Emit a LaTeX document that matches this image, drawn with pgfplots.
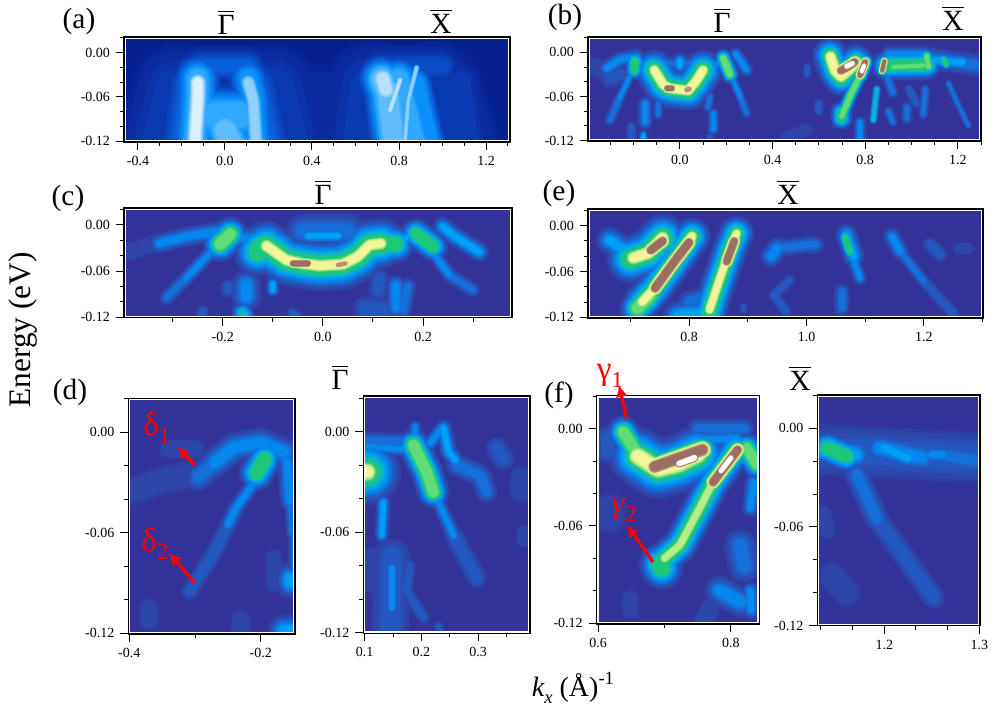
\documentclass[border=0pt]{standalone}
\usepackage{fontspec}
\setmainfont{Liberation Serif}
\usepackage{pgfplots}
\pgfplotsset{compat=1.18}
\usetikzlibrary{arrows.meta}

% intensity levels, rainbow map and blue map of panel (a)
\definecolor{L0}{HTML}{333399}
\definecolor{L1}{HTML}{2E46AA}
\definecolor{L2}{HTML}{2258C0}
\definecolor{L3}{HTML}{1470D8}
\definecolor{L4}{HTML}{0588EE}
\definecolor{L5}{HTML}{00A0F4}
\definecolor{L6}{HTML}{10B4C0}
\definecolor{L7}{HTML}{1CC878}
\definecolor{L8}{HTML}{60DC78}
\definecolor{L9}{HTML}{B8EC88}
\definecolor{L10}{HTML}{F4F49C}
\definecolor{L11}{HTML}{B89078}
\definecolor{L12}{HTML}{9A6E60}
\definecolor{L13}{HTML}{E8E0D8}
\definecolor{L14}{HTML}{FFFFFF}
\definecolor{A0}{HTML}{04208E}
\definecolor{A1}{HTML}{0A2A9E}
\definecolor{A2}{HTML}{0A3AB0}
\definecolor{A3}{HTML}{0A4CC4}
\definecolor{A4}{HTML}{0860DA}
\definecolor{A5}{HTML}{0678EC}
\definecolor{A6}{HTML}{0A90F8}
\definecolor{A7}{HTML}{30A8FC}
\definecolor{A8}{HTML}{60BCFC}
\definecolor{A9}{HTML}{90D0FC}
\definecolor{A10}{HTML}{B8E0FC}
\definecolor{A11}{HTML}{DCF0FE}
\definecolor{A12}{HTML}{FFFFFF}

\def\cm{L}
% ridge: peak level, full width in px, points along the ridge
\newcommand{\R}[3]{%
  \ifdim\curV pt>#1pt \else
    \pgfmathsetmacro\lw{0.75*1.3*#2*(ln((#1+0.5)/(\curV-0.25))/ln((#1+0.5)/0.5))^(#1>5?0.35:0.5)}%
    \edef\tmp{\noexpand\addplot[draw=\curC, line width=\lw pt, line cap=round, line join=round, forget plot] coordinates {#3};}\tmp
  \fi}
\newcommand{\lev}[4]{\def\curV{#1}\def\curC{\cm#2!50!\cm#3}#4}
\newcommand{\levels}[1]{%
  \lev{0.75}{0}{1}{#1}\lev{1}{1}{1}{#1}\lev{1.5}{1}{2}{#1}\lev{2}{2}{2}{#1}\lev{2.5}{2}{3}{#1}%
  \lev{3}{3}{3}{#1}\lev{3.5}{3}{4}{#1}\lev{4}{4}{4}{#1}\lev{4.5}{4}{5}{#1}\lev{5}{5}{5}{#1}%
  \lev{5.5}{5}{6}{#1}\lev{6}{6}{6}{#1}\lev{6.5}{6}{7}{#1}\lev{7}{7}{7}{#1}\lev{7.5}{7}{8}{#1}%
  \lev{8}{8}{8}{#1}\lev{8.5}{8}{9}{#1}\lev{9}{9}{9}{#1}\lev{9.5}{9}{10}{#1}\lev{10}{10}{10}{#1}%
  \lev{10.5}{10}{11}{#1}\lev{11}{11}{11}{#1}\lev{11.5}{11}{12}{#1}\lev{12}{12}{12}{#1}%
  \lev{12.5}{12}{13}{#1}\lev{13}{13}{13}{#1}\lev{13.5}{13}{14}{#1}\lev{14}{14}{14}{#1}}
\newcommand{\frameline}{\draw[white, line width=0.9pt] ([shift={(1pt,1pt)}]rel axis cs:0,0) rectangle ([shift={(-1pt,-1pt)}]rel axis cs:1,1);}

\pgfplotsset{
  panel/.style n args={4}{scale only axis, anchor=south west,
    at={({#1*0.75pt},{(711-#4)*0.75pt})}, width={(#3-#1)*0.75pt}, height={(#4-#2)*0.75pt},
    axis on top, axis background/.style={fill=L0}, axis line style={line width=0.9pt},
    tick align=outside, xtick pos=bottom, ytick pos=left,
    major tick length=6pt, minor tick length=3pt,
    tick style={black, line width=0.75pt},
    tick label style={font=\fontsize{10.5}{12}\selectfont},
    ytick={0,-0.06,-0.12}, yticklabels={0.00,-0.06,-0.12},
    minor ytick={0.02,-0.02,-0.04,-0.08,-0.10},
    xticklabel style={yshift=-1pt}, yticklabel style={xshift=-1pt}},
}

\newcommand{\panelA}{%
  \R{1}{60}{(0.25,-0.07) (0.65,-0.07)}
  \R{2}{70}{(-0.22,-0.05) (-0.30,-0.14)}
  \R{2}{70}{(0.22,-0.05) (0.30,-0.14)}
  \R{2}{75}{(0.68,-0.05) (0.64,-0.14)}
  \R{2}{75}{(0.96,-0.05) (1.06,-0.14)}
  \R{2}{34}{(1.08,-0.04) (1.12,-0.13)}
  \R{3}{32}{(0.72,-0.018) (1.0,-0.018)}
  \R{4}{52}{(-0.16,-0.045) (-0.2,-0.13)}
  \R{4}{52}{(0.14,-0.045) (0.2,-0.13)}
  \R{4}{32}{(-0.12,-0.018) (0.11,-0.018)}
  \R{7}{60}{(-0.05,-0.085) (0.07,-0.085)}
  \R{8}{50}{(0,-0.105) (0.04,-0.13)}
  \R{7}{46}{(-0.125,-0.035) (-0.125,-0.06) (-0.14,-0.13)}
  \R{11}{24}{(-0.125,-0.04) (-0.125,-0.06) (-0.14,-0.13)}
  \R{6}{40}{(0.107,-0.035) (0.13,-0.064) (0.145,-0.13)}
  \R{9}{22}{(0.107,-0.04) (0.13,-0.064) (0.145,-0.13)}
  \R{8}{46}{(0.72,-0.035) (0.74,-0.05)}
  \R{10}{30}{(0.725,-0.035) (0.74,-0.05)}
  \R{8}{48}{(0.745,-0.05) (0.78,-0.13)}
  \R{7}{44}{(0.80,-0.035) (0.88,-0.13)}
  \R{6}{32}{(0.88,-0.04) (0.95,-0.13)}
  \R{10}{8}{(0.805,-0.037) (0.759,-0.078)}
  \R{9}{7}{(0.881,-0.02) (0.843,-0.064) (0.828,-0.118)}
}

\newcommand{\panelB}{%
  \R{1}{16}{(-0.37,-0.02) (-0.30,-0.03)}
  \R{2}{16}{(-0.30,-0.035) (-0.26,-0.03)}
  \R{4}{13}{(-0.317,-0.022) (-0.26,-0.01) (-0.187,-0.006)}
  \R{3}{9}{(-0.302,-0.092) (-0.26,-0.062)}
  \R{4}{8}{(-0.26,-0.062) (-0.216,-0.033)}
  \R{7}{16}{(-0.194,-0.012) (-0.197,-0.024)}
  \R{3}{10}{(-0.15,-0.016) (0.12,-0.014)}
  \R{5}{14}{(0,-0.012) (0,-0.018)}
  \R{4}{11}{(0.13,-0.017) (0.187,-0.015)}
  \R{4}{12}{(-0.15,-0.07) (-0.15,-0.095)}
  \R{5}{8}{(-0.158,-0.112) (-0.158,-0.125)}
  \R{3}{8}{(-0.094,-0.07) (-0.094,-0.085)}
  \R{4}{9}{(0.144,-0.083) (0.144,-0.105)}
  \R{3}{8}{(0.13,-0.06) (0.12,-0.075)}
  \R{2}{8}{(-0.21,-0.12) (-0.21,-0.10)}
  \R{2}{7}{(0.13,-0.115) (0.13,-0.125)}
  \R{4}{11}{(0.24,-0.002) (0.288,-0.024)}
  \R{4}{8}{(0.23,-0.038) (0.26,-0.06)}
  \R{3}{8}{(0.26,-0.06) (0.288,-0.083)}
  \R{8}{15}{(0.187,-0.008) (0.216,-0.03)}
  \R{7}{32}{(-0.111,-0.024) (-0.072,-0.044) (-0.043,-0.049) (0.036,-0.052) (0.072,-0.038) (0.10,-0.024)}
  \R{10}{18}{(-0.111,-0.024) (-0.072,-0.044) (-0.043,-0.049) (0.036,-0.052) (0.072,-0.038) (0.10,-0.024)}
  \R{12}{14}{(-0.055,-0.049) (-0.035,-0.049)}
  \R{11}{14}{(0.03,-0.051) (0.04,-0.05)}
  % X side
  \R{2}{7}{(0.55,-0.02) (0.55,-0.03)}
  \R{1}{10}{(0.46,-0.115) (0.55,-0.105)}
  \R{2}{8}{(0.60,-0.07) (0.60,-0.08)}
  \R{4}{10}{(0.778,-0.095) (0.778,-0.12)}
  \R{3}{8}{(0.90,-0.08) (0.92,-0.095)}
  \R{3}{9}{(0.98,-0.075) (0.98,-0.09)}
  \R{3}{8}{(1.06,-0.05) (1.05,-0.085)}
  \R{3}{9}{(0.89,-0.03) (0.92,-0.055)}
  \R{3}{6}{(1.16,-0.042) (1.20,-0.07) (1.245,-0.10)}
  \R{2}{8}{(0.99,-0.05) (1.02,-0.07)}
  \R{3}{18}{(1.08,-0.008) (1.29,-0.018)}
  \R{5}{15}{(1.08,-0.01) (1.22,-0.014)}
  \R{4}{14}{(0.90,-0.003) (1.06,-0.003)}
  \R{7}{24}{(0.89,-0.018) (1.065,-0.017)}
  \R{8}{10}{(0.92,-0.02) (1.05,-0.018)}
  \R{8}{12}{(1.065,-0.005) (1.073,-0.02)}
  \R{7}{10}{(1.14,-0.01) (1.15,-0.016)}
  \R{6}{7}{(0.85,-0.05) (0.835,-0.092)}
  \R{8}{12}{(0.698,-0.087) (0.734,-0.06) (0.778,-0.031)}
  \R{7}{18}{(0.698,-0.082) (0.698,-0.09)}
  \R{7}{28}{(0.648,-0.004) (0.67,-0.025) (0.695,-0.035) (0.735,-0.022) (0.76,-0.013)}
  \R{10}{20}{(0.65,-0.006) (0.67,-0.025) (0.695,-0.033) (0.735,-0.022) (0.76,-0.013)}
  \R{12}{18}{(0.695,-0.025) (0.735,-0.018) (0.755,-0.013)}
  \R{14}{12}{(0.72,-0.019) (0.745,-0.015)}
  \R{12}{14}{(0.778,-0.031) (0.80,-0.013)}
  \R{14}{10}{(0.785,-0.026) (0.795,-0.018)}
  \R{12}{10}{(0.873,-0.025) (0.883,-0.012)}
}

\newcommand{\panelC}{%
  \R{1}{14}{(-0.385,-0.035) (-0.32,-0.02)}
  \R{4}{16}{(-0.326,-0.024) (-0.2725,-0.015) (-0.193,-0.0065)}
  \R{3}{12}{(-0.312,-0.095) (-0.2725,-0.069)}
  \R{4}{12}{(-0.2725,-0.069) (-0.226,-0.037) (-0.205,-0.02)}
  \R{8}{28}{(-0.185,-0.012) (-0.205,-0.025)}
  \R{4}{16}{(-0.166,-0.017) (-0.113,-0.017)}
  \R{3}{28}{(-0.04,-0.008) (0.05,-0.008)}
  \R{5}{14}{(-0.03,-0.014) (0.03,-0.014)}
  \R{7}{38}{(-0.125,-0.03) (-0.13,-0.035)}
  \R{5}{16}{(0.113,-0.02) (0.166,-0.017)}
  \R{7}{30}{(0.12,-0.024) (0.145,-0.025)}
  \R{7}{24}{(0.186,-0.011) (0.22,-0.028)}
  \R{5}{16}{(0.239,-0.002) (0.259,-0.013) (0.312,-0.035)}
  \R{4}{12}{(0.219,-0.035) (0.2526,-0.065)}
  \R{3}{12}{(0.2526,-0.065) (0.299,-0.0845)}
  \R{4}{24}{(-0.153,-0.078) (-0.153,-0.093)}
  \R{5}{11}{(-0.1,-0.076) (-0.1,-0.085)}
  \R{2}{12}{(-0.19,-0.08) (-0.19,-0.085)}
  \R{6}{18}{(-0.16,-0.115) (-0.155,-0.128)}
  \R{4}{16}{(0.146,-0.078) (0.146,-0.108)}
  \R{2}{20}{(0.085,-0.108) (0.12,-0.112)}
  \R{2}{16}{(0.113,-0.07) (0.11,-0.085)}
  \R{3}{14}{(0.17,-0.08) (0.16,-0.11)}
  \R{2}{10}{(-0.06,-0.115) (-0.05,-0.12)}
  \R{2}{10}{(-0.24,-0.112) (-0.24,-0.12)}
  \R{7}{40}{(-0.113,-0.027) (-0.073,-0.0455) (-0.043,-0.05) (-0.007,-0.053) (0.04,-0.051) (0.07,-0.041) (0.093,-0.026) (0.116,-0.024)}
  \R{10}{20}{(-0.113,-0.027) (-0.073,-0.0455) (-0.043,-0.05) (-0.007,-0.053) (0.04,-0.051) (0.07,-0.041) (0.093,-0.026) (0.116,-0.024)}
  \R{12}{14}{(-0.06,-0.05) (-0.03,-0.05)}
  \R{11}{12}{(0.03,-0.052) (0.045,-0.05)}
}

\newcommand{\panelE}{%
  \R{5}{22}{(0.665,-0.019) (0.694,-0.034)}
  \R{5}{24}{(0.78,-0.118) (0.82,-0.115)}
  \R{3}{18}{(0.80,-0.10) (0.82,-0.095)}
  \R{7}{38}{(0.70,-0.044) (0.73,-0.036) (0.755,-0.016)}
  \R{10}{22}{(0.705,-0.042) (0.73,-0.036) (0.755,-0.016)}
  \R{12}{20}{(0.735,-0.032) (0.755,-0.02)}
  \R{8}{28}{(0.712,-0.108) (0.735,-0.09)}
  \R{7}{30}{(0.72,-0.1) (0.742,-0.082) (0.773,-0.049) (0.805,-0.014)}
  \R{10}{18}{(0.72,-0.1) (0.742,-0.082) (0.773,-0.049) (0.805,-0.014)}
  \R{12}{20}{(0.742,-0.082) (0.773,-0.049) (0.80,-0.022)}
  \R{7}{28}{(0.83,-0.125) (0.847,-0.082) (0.87,-0.03) (0.881,-0.01)}
  \R{10}{16}{(0.835,-0.11) (0.847,-0.082) (0.87,-0.03) (0.881,-0.01)}
  \R{12}{18}{(0.864,-0.047) (0.877,-0.02)}
  \R{4}{18}{(0.94,-0.04) (0.95,-0.03)}
  \R{3}{14}{(0.95,-0.03) (1.0,-0.025) (1.015,-0.025)}
  \R{2}{9}{(0.972,-0.071) (0.944,-0.091) (0.966,-0.113)}
  \R{2}{6}{(0.893,-0.105) (0.893,-0.11)}
  \R{5}{18}{(1.068,-0.012) (1.08,-0.04)}
  \R{7}{12}{(1.066,-0.015) (1.074,-0.034)}
  \R{4}{11}{(1.08,-0.045) (1.091,-0.069)}
  \R{3}{13}{(1.06,-0.0865) (1.06,-0.108)}
  \R{4}{14}{(1.145,-0.014) (1.16,-0.034)}
  \R{3}{10}{(1.145,-0.014) (1.16,-0.034) (1.2,-0.073)}
  \R{2}{10}{(1.2,-0.073) (1.25,-0.115)}
  \R{2}{12}{(1.21,-0.025) (1.227,-0.038)}
  \R{1}{10}{(1.26,-0.03) (1.275,-0.03)}
}

\newcommand{\panelDa}{%
  \R{1}{22}{(-0.394,-0.035) (-0.358,-0.0295) (-0.308,-0.0255)}
  \R{1}{16}{(-0.34,-0.01) (-0.30,-0.01)}
  \R{1}{16}{(-0.37,-0.112) (-0.37,-0.105)}
  \R{1}{16}{(-0.23,-0.118) (-0.23,-0.112)}
  \R{1}{14}{(-0.18,-0.09) (-0.18,-0.075)}
  \R{2}{14}{(-0.237,-0.045) (-0.267,-0.069) (-0.308,-0.095)}
  \R{4}{13}{(-0.206,-0.0275) (-0.237,-0.045) (-0.25,-0.055)}
  \R{3}{22}{(-0.295,-0.027) (-0.27,-0.018)}
  \R{4}{24}{(-0.27,-0.018) (-0.24,-0.009) (-0.2,-0.006) (-0.165,-0.012)}
  \R{4}{16}{(-0.16,-0.0175) (-0.156,-0.041)}
  \R{3}{9}{(-0.156,-0.041) (-0.153,-0.06)}
  \R{7}{28}{(-0.194,-0.016) (-0.2065,-0.0245)}
  \R{3}{8}{(-0.15,-0.06) (-0.15,-0.08)}
  \R{5}{24}{(-0.155,-0.087) (-0.155,-0.09)}
  \R{5}{24}{(-0.166,-0.118) (-0.15,-0.118)}
  \R{7}{7}{(-0.149,-0.119) (-0.148,-0.121)}
}

\newcommand{\panelDb}{%
  \R{1}{20}{(0.377,-0.028) (0.377,-0.035)}
  \R{1}{12}{(0.38,-0.06) (0.38,-0.065)}
  \R{1}{16}{(0.11,-0.075) (0.11,-0.09)}
  \R{2}{18}{(0.333,-0.01) (0.345,-0.016)}
  \R{3}{18}{(0.2625,-0.02) (0.304,-0.026) (0.315,-0.036)}
  \R{2}{16}{(0.257,-0.062) (0.298,-0.0875)}
  \R{4}{12}{(0.227,-0.04) (0.257,-0.062)}
  \R{3}{14}{(0.1,-0.005) (0.17,-0.006)}
  \R{4}{12}{(0.1,-0.009) (0.19,-0.011)}
  \R{2}{30}{(0.148,-0.075) (0.145,-0.118)}
  \R{4}{12}{(0.148,-0.0816) (0.148,-0.105)}
  \R{2}{10}{(0.18,-0.08) (0.174,-0.095) (0.204,-0.111)}
  \R{2}{8}{(0.23,-0.116) (0.235,-0.122)}
  \R{5}{12}{(0.133,-0.042) (0.13,-0.062)}
  \R{4}{10}{(0.189,0.003) (0.19,-0.008)}
  \R{4}{12}{(0.239,0.003) (0.215,-0.007)}
  \R{5}{14}{(0.239,0.002) (0.248,-0.012) (0.26,-0.017)}
  \R{7}{52}{(0.098,-0.024) (0.106,-0.024)}
  \R{10}{30}{(0.098,-0.024) (0.104,-0.024)}
  \R{8}{26}{(0.186,-0.008) (0.2095,-0.024) (0.221,-0.036)}
}

\newcommand{\panelFa}{%
  \R{1}{14}{(0.648,-0.112) (0.648,-0.105)}
  \R{1}{24}{(0.618,-0.049) (0.618,-0.055)}
  \R{2}{20}{(0.615,-0.006) (0.615,-0.014)}
  \R{1}{16}{(0.76,-0.118) (0.77,-0.11)}
  \R{3}{26}{(0.814,-0.072) (0.82,-0.085)}
  \R{4}{24}{(0.783,-0.1) (0.814,-0.107)}
  \R{4}{14}{(0.829,-0.1) (0.83,-0.112)}
  \R{3}{16}{(0.75,0.0) (0.82,0.0)}
  \R{4}{14}{(0.75,-0.007) (0.81,-0.006)}
  \R{4}{14}{(0.834,-0.033) (0.829,-0.049)}
  \R{8}{24}{(0.824,-0.012) (0.839,-0.022)}
  \R{8}{26}{(0.638,-0.002) (0.655,-0.013)}
  \R{7}{46}{(0.66,-0.017) (0.69,-0.025) (0.72,-0.022) (0.75,-0.016)}
  \R{10}{30}{(0.66,-0.017) (0.69,-0.025) (0.72,-0.022) (0.75,-0.016)}
  \R{7}{34}{(0.693,-0.084) (0.696,-0.086)}
  \R{7}{28}{(0.70,-0.08) (0.723,-0.072) (0.753,-0.049) (0.773,-0.033) (0.808,-0.013)}
  \R{9}{16}{(0.70,-0.08) (0.723,-0.072) (0.753,-0.049) (0.773,-0.033) (0.808,-0.013)}
  \R{12}{26}{(0.685,-0.0235) (0.757,-0.013)}
  \R{14}{14}{(0.722,-0.0215) (0.745,-0.018)}
  \R{12}{20}{(0.773,-0.033) (0.81,-0.013)}
  \R{14}{12}{(0.785,-0.026) (0.80,-0.018)}
}

\newcommand{\panelFb}{%
  \R{1}{22}{(1.145,-0.09) (1.16,-0.10)}
  \R{1}{14}{(1.135,-0.052) (1.14,-0.062)}
  \R{2}{40}{(1.13,-0.013) (1.30,-0.018)}
  \R{2}{18}{(1.192,-0.055) (1.22,-0.077) (1.252,-0.103)}
  \R{3}{20}{(1.171,-0.028) (1.192,-0.055)}
  \R{3}{20}{(1.255,-0.016) (1.30,-0.02)}
  \R{4}{24}{(1.195,-0.012) (1.24,-0.018)}
  \R{4}{14}{(1.25,-0.016) (1.262,-0.016)}
  \R{5}{18}{(1.2,-0.012) (1.225,-0.018)}
  \R{5}{26}{(1.13,-0.013) (1.17,-0.016)}
  \R{7}{26}{(1.14,-0.012) (1.16,-0.017)}
}

\begin{document}
\begin{tikzpicture}
\path[use as bounding box] (0,0) rectangle (749.25pt,533.25pt);

% (a)
\def\cm{A}
\begin{axis}[panel={124}{37}{510}{142}, xmin=-0.464, xmax=1.31, ymin=-0.121, ymax=0.0213,
  axis background/.style={fill=A0},
  xtick={-0.4,0,0.4,0.8,1.2}, xticklabels={-0.4,0.0,0.4,0.8,1.2},
  minor xtick={-0.3,-0.2,-0.1,0.1,0.2,0.3,0.5,0.6,0.7,0.9,1.0,1.1,1.3}]
\levels{\panelA}
\frameline
\end{axis}
\def\cm{L}

% (b)
\begin{axis}[panel={588}{37}{981}{141}, xmin=-0.397, xmax=1.30, ymin=-0.1205, ymax=0.0208,
  xtick={0,0.4,0.8,1.2}, xticklabels={0.0,0.4,0.8,1.2},
  minor xtick={-0.3,-0.2,-0.1,0.1,0.2,0.3,0.5,0.6,0.7,0.9,1.0,1.1,1.3}]
\levels{\panelB}
\frameline
\end{axis}

% (c)
\begin{axis}[panel={124}{208}{512}{317.7}, xmin=-0.397, xmax=0.3775, ymin=-0.1205, ymax=0.0221,
  xtick={-0.2,0,0.2}, xticklabels={-0.2,0.0,0.2}, minor xtick={-0.3,-0.1,0.1,0.3}]
\levels{\panelC}
\frameline
\end{axis}

% (e)
\begin{axis}[panel={588}{209}{983}{318}, xmin=0.628, xmax=1.3005, ymin=-0.1209, ymax=0.0219,
  xtick={0.8,1.0,1.2}, xticklabels={0.8,1.0,1.2}, minor xtick={0.7,0.9,1.1,1.3}]
\levels{\panelE}
\frameline
\end{axis}

% (d)
\begin{axis}[panel={128.3}{398.3}{295}{634}, xmin=-0.4015, xmax=-0.148, ymin=-0.1204, ymax=0.0203,
  xtick={-0.4,-0.2}, xticklabels={-0.4,-0.2}, minor xtick={-0.3}]
\levels{\panelDa}
\frameline
\end{axis}
\begin{axis}[panel={363.3}{396}{530}{633.3}, xmin=0.0975, xmax=0.3917, ymin=-0.1204, ymax=0.0213,
  xtick={0.1,0.2,0.3}, xticklabels={0.1,0.2,0.3}, minor xtick={0.15,0.25,0.35}]
\levels{\panelDb}
\frameline
\end{axis}

% (f)
\begin{axis}[panel={596.7}{395.7}{759.3}{624}, xmin=0.598, xmax=0.8426, ymin=-0.1206, ymax=0.0204,
  xtick={0.6,0.8}, xticklabels={0.6,0.8}, minor xtick={0.7}]
\levels{\panelFa}
\frameline
\end{axis}
\begin{axis}[panel={817.3}{395}{980}{625.7}, xmin=1.1295, xmax=1.3007, ymin=-0.12, ymax=0.0202,
  xtick={1.2,1.3}, xticklabels={1.2,1.3}, minor xtick={1.1333,1.1667,1.2333,1.2667}]
\levels{\panelFb}
\frameline
\end{axis}

% text in image pixels
\newcommand{\lab}[3]{\node[inner sep=0pt, anchor=center] at ({#1*0.75pt},{(711-#2)*0.75pt}) {\fontsize{22}{24}\selectfont #3};}
\newcommand{\Gb}{\raisebox{0.76em}{\rlap{\rule{0.578em}{0.9pt}}}Γ}
\newcommand{\Xb}{\raisebox{0.76em}{\rlap{\rule{0.722em}{0.9pt}}}X}
\lab{79}{21}{(a)}
\lab{226}{23}{\Gb}
\lab{441}{22}{\Xb}
\lab{565}{17}{(b)}
\lab{722}{21}{\Gb}
\lab{953}{19}{\Xb}
\lab{68}{198}{(c)}
\lab{323}{193}{\Gb}
\lab{559}{193}{(e)}
\lab{788}{193}{\Xb}
\lab{70}{392}{(d)}
\lab{340}{378}{\Gb}
\lab{559}{395}{(f)}
\lab{800}{379}{\Xb}
\node[inner sep=0pt, rotate=90] at ({23*0.75pt},{(711-330)*0.75pt}) {\fontsize{23.5}{26}\selectfont Energy (eV)};
\node[inner sep=0pt] at ({573*0.75pt},{(711-688)*0.75pt}) {\fontsize{21}{24}\selectfont \textit{k\raisebox{-0.25em}{\fontsize{14}{15}\selectfont x}} (Å)\raisebox{0.45em}{\fontsize{14}{15}\selectfont -1}};

% red annotations
\newcommand{\arr}[4]{\draw[red, line width=2.4pt, -{Latex[length=9pt,width=9pt]}] ({#1*0.75pt},{(711-#2)*0.75pt}) -- ({#3*0.75pt},{(711-#4)*0.75pt});}
\arr{195}{465}{177}{447}
\arr{195}{583}{169}{553}
\arr{627}{420}{619}{385}
\arr{653}{562}{627}{525}
\newcommand{\redlab}[3]{\node[inner sep=0pt, red] at ({#1*0.75pt},{(711-#2)*0.75pt}) {\fontsize{25}{27}\selectfont #3};}
\newcommand{\subl}[1]{\raisebox{-0.25em}{\fontsize{17}{18}\selectfont #1}}
\redlab{157}{428}{δ\subl{1}}
\redlab{155}{544}{δ\subl{2}}
\redlab{610}{376}{γ\subl{1}}
\redlab{624}{510}{\textit{γ}\subl{2}}
\end{tikzpicture}
\end{document}
